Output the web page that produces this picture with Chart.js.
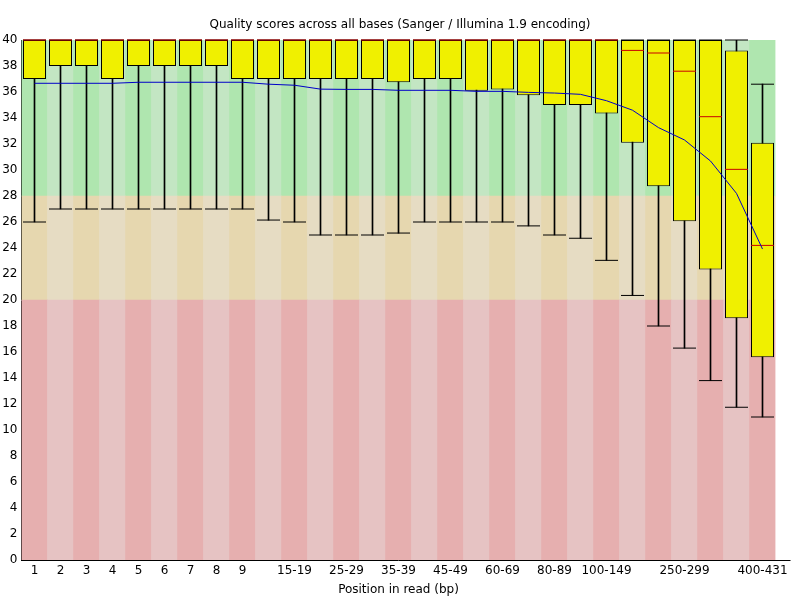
<!DOCTYPE html>
<html>
<head>
<meta charset="utf-8">
<title>Quality scores across all bases</title>
<script src="https://cdn.jsdelivr.net/npm/chart.js@4.4.1/dist/chart.umd.min.js"></script>
<style>
  html, body { margin: 0; padding: 0; background: #fff; }
  #wrap { width: 800px; height: 600px; position: relative; }
</style>
</head>
<body>
<div id="wrap"><canvas id="qualityChart"></canvas></div>
<script>
// base groups along the read
const positions = ['1', '2', '3', '4', '5', '6', '7', '8', '9', '10-14', '15-19', '20-24', '25-29', '30-34',
  '35-39', '40-44', '45-49', '50-59', '60-69', '70-79', '80-89', '90-99', '100-149', '150-199', '200-249',
  '250-299', '300-349', '350-399', '400-431'];

// only some of the groups get a label on the x axis
const tickLabels = ['1', '2', '3', '4', '5', '6', '7', '8', '9', '', '15-19', '', '25-29', '',
  '35-39', '', '45-49', '', '60-69', '', '80-89', '', '100-149', '', '',
  '250-299', '', '', '400-431'];

const upperWhisker = [40, 40, 40, 40, 40, 40, 40, 40, 40, 40, 40, 40, 40, 40,
  40, 40, 40, 40, 40, 40, 40, 40, 40, 40, 40, 40, 40, 40, 36.6];
const upperQuartile = [40, 40, 40, 40, 40, 40, 40, 40, 40, 40, 40, 40, 40, 40,
  40, 40, 40, 40, 40, 40, 40, 40, 40, 40, 40, 40, 40, 39.2, 32.1];
const medians = [40, 40, 40, 40, 40, 40, 40, 40, 40, 40, 40, 40, 40, 40,
  40, 40, 40, 40, 40, 40, 40, 40, 40, 39.2, 39.0, 37.6, 34.1, 30.05, 24.2];
const lowerQuartile = [37, 38, 38, 37, 38, 38, 38, 38, 37, 37, 37, 37, 37, 37,
  36.75, 37, 37, 36.1, 36.2, 35.75, 35, 35, 34.35, 32.1, 28.75, 26.05, 22.35, 18.6, 15.6];
const lowerWhisker = [26, 27, 27, 27, 27, 27, 27, 27, 27, 26.15, 26, 25, 25, 25,
  25.15, 26, 26, 26, 26, 25.7, 25, 24.75, 23.05, 20.35, 18, 16.3, 13.8, 11.75, 11];
const means = [36.67, 36.67, 36.67, 36.67, 36.75, 36.75, 36.75, 36.75, 36.75, 36.6, 36.52, 36.22, 36.2, 36.2,
  36.13, 36.13, 36.13, 36.05, 36.05, 35.97, 35.92, 35.82, 35.33, 34.6, 33.26, 32.31, 30.69, 28.2, 23.92];

// quality zones: poor / reasonable / good
const zoneLimits = [0, 20, 28, 40];
const zoneColors = [
  ['rgb(230,175,175)', 'rgb(230,195,195)'],
  ['rgb(230,215,175)', 'rgb(230,220,195)'],
  ['rgb(175,230,175)', 'rgb(195,230,195)']
];

Chart.defaults.font.family = '"DejaVu Sans", sans-serif';
Chart.defaults.font.size = 12;
Chart.defaults.color = '#000';

function zoneDataset(z) {
  return {
    type: 'bar',
    data: positions.map(() => [zoneLimits[z], zoneLimits[z + 1]]),
    backgroundColor: positions.map((p, i) => zoneColors[z][i % 2]),
    borderWidth: 0,
    barPercentage: 1,
    categoryPercentage: 1,
    grouped: false,
    order: 10
  };
}

function tickDataset(values, color, order) {
  return {
    type: 'line',
    data: values,
    showLine: false,
    pointStyle: 'line',
    pointRadius: 11.5,
    pointHoverRadius: 11.5,
    pointBorderColor: color,
    pointBackgroundColor: color,
    pointBorderWidth: 1,
    clip: false,
    order: order
  };
}

// the x axis line runs a little past the last group
const axisTail = {
  id: 'axisTail',
  afterDraw(chart) {
    const ctx = chart.ctx;
    const a = chart.chartArea;
    ctx.save();
    ctx.strokeStyle = '#000';
    ctx.lineWidth = 1;
    ctx.beginPath();
    ctx.moveTo(a.right, a.bottom + 0.5);
    ctx.lineTo(a.right + 15, a.bottom + 0.5);
    ctx.stroke();
    ctx.restore();
  }
};

const ctx = document.getElementById('qualityChart').getContext('2d');

new Chart(ctx, {
  type: 'bar',
  data: {
    labels: positions,
    datasets: [
      zoneDataset(0),
      zoneDataset(1),
      zoneDataset(2),
      {
        type: 'bar',
        data: positions.map((p, i) => [lowerWhisker[i], upperWhisker[i]]),
        backgroundColor: '#000',
        borderWidth: 0,
        barThickness: 1,
        grouped: false,
        order: 6
      },
      {
        type: 'bar',
        data: positions.map((p, i) => [lowerQuartile[i], upperQuartile[i]]),
        backgroundColor: 'rgb(240,240,0)',
        borderColor: '#000',
        borderWidth: 1,
        borderSkipped: false,
        barPercentage: 23 / 26,
        categoryPercentage: 1,
        grouped: false,
        order: 5
      },
      tickDataset(lowerWhisker, '#000', 4),
      tickDataset(upperWhisker, '#000', 4),
      tickDataset(medians, 'rgb(200,0,0)', 3),
      {
        type: 'line',
        data: means,
        borderColor: 'rgb(0,0,200)',
        borderWidth: 1,
        pointRadius: 0,
        tension: 0,
        fill: false,
        order: 1
      }
    ]
  },
  options: {
    responsive: true,
    maintainAspectRatio: false,
    animation: false,
    events: [],
    layout: { padding: 0 },
    plugins: {
      legend: { display: false },
      tooltip: { enabled: false },
      title: {
        display: true,
        text: 'Quality scores across all bases (Sanger / Illumina 1.9 encoding)',
        color: '#000',
        font: { size: 12, weight: 'normal' },
        padding: { top: 18, bottom: 7.6 }
      }
    },
    scales: {
      x: {
        offset: true,
        grid: { display: false, drawTicks: false },
        border: { display: true, color: '#000', width: 1 },
        ticks: {
          autoSkip: false,
          maxRotation: 0,
          minRotation: 0,
          padding: 4,
          callback: (v, i) => tickLabels[i]
        },
        title: {
          display: true,
          text: 'Position in read (bp)',
          padding: { top: 0, bottom: 3 }
        },
        afterFit: (s) => { s.height = 40; }
      },
      y: {
        min: 0,
        max: 40,
        ticks: { stepSize: 2, padding: 4 },
        grid: { display: false, drawTicks: false },
        border: { display: true, color: '#000', width: 1 },
        afterFit: (s) => { s.width = 21.5; }
      },
      yRight: {
        type: 'linear',
        position: 'right',
        display: true,
        ticks: { display: false },
        grid: { display: false, drawTicks: false },
        border: { display: false },
        afterFit: (s) => { s.width = 24.5; }
      }
    }
  },
  plugins: [axisTail]
});
</script>
</body>
</html>
